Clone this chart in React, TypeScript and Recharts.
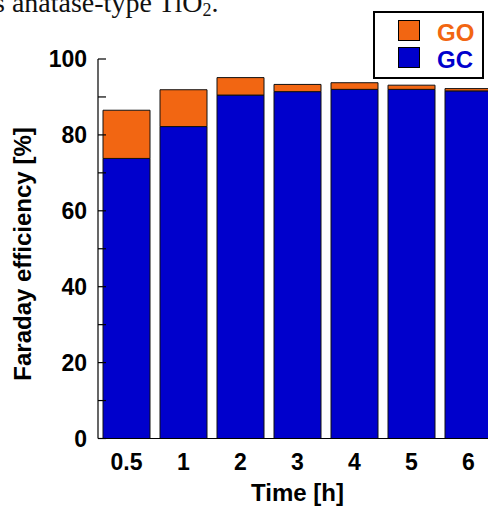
import React from "react";
import { BarChart, Bar, XAxis, YAxis, Legend, Label } from "recharts";

// values
const times = ["0.5", "1", "2", "3", "4", "5", "6"];
const gcValues = [73.8, 82.2, 90.5, 91.4, 92.0, 92.0, 91.6];
const goValues = [12.7, 9.7, 4.6, 1.9, 1.75, 1.1, 0.6];
const yTicks = [0, 10, 20, 30, 40, 50, 60, 70, 80, 90, 100];
const yLabelTicks = [0, 20, 40, 60, 80, 100];

const data = times.map((t, i) => ({ time: t, GC: gcValues[i], GO: goValues[i] }));

const BLUE = "#0000cc";
const ORANGE = "#f26612";
const FONT = "Arial, 'Liberation Sans', sans-serif";

const AXIS_X = 98;
const PLOT_BOTTOM = 438.5;

const YTick = ({ y, payload }: any) => {
  const v = payload.value;
  return (
    <g>
      <line x1={AXIS_X} x2={AXIS_X + 8} y1={y} y2={y} stroke="#000" strokeWidth={1.2} />
      {yLabelTicks.includes(v) && (
        <text x={87} y={y + 8} textAnchor="end" fontFamily={FONT} fontWeight="bold" fontSize={23} fill="#000">
          {v}
        </text>
      )}
    </g>
  );
};

const XTick = ({ x, payload }: any) => (
  <text x={x} y={469.5} textAnchor="middle" fontFamily={FONT} fontWeight="bold" fontSize={23} fill="#000">
    {payload.value}
  </text>
);

const LegendBox = ({ payload }: any) => {
  const items = [...(payload || [])].reverse();
  return (
    <svg width={111} height={68}>
      <rect x={1} y={1} width={109} height={66} fill="#fff" stroke="#000" strokeWidth={2} />
      {items.map((item: any, i: number) => (
        <g key={item.value}>
          <rect x={25.5} y={9.5 + i * 27} width={21} height={20} fill={item.color} stroke="#000" strokeWidth={1} />
          <text x={64} y={29.5 + i * 27} fontFamily={FONT} fontWeight="bold" fontSize={24} fill={item.color}>
            {item.value}
          </text>
        </g>
      ))}
    </svg>
  );
};

export default function App() {
  return (
    <div style={{ position: "absolute", left: 0, top: 0, width: 488, height: 506, overflow: "hidden", background: "#fff" }}>
      <svg width={488} height={30} style={{ position: "absolute", left: 0, top: 0 }}>
        <text x={-6} y={11.5} fontFamily="'Liberation Serif', 'Times New Roman', serif" fontSize={28} fill="#111">
          s anatase-type TiO
          <tspan fontSize={18} dy={4}>2</tspan>
          <tspan dy={-4}>.</tspan>
        </text>
      </svg>
      <BarChart
        width={497}
        height={506}
        data={data}
        margin={{ top: 59, right: 0, bottom: 0, left: 0 }}
        barCategoryGap={5}
        style={{ position: "absolute", left: 0, top: 0 }}
      >
        <Bar dataKey="GC" name="GC" stackId="a" fill={BLUE} stroke="#111" strokeWidth={1} isAnimationActive={false} />
        <Bar dataKey="GO" name="GO" stackId="a" fill={ORANGE} stroke="#111" strokeWidth={1} isAnimationActive={false} />
        <XAxis
          dataKey="time"
          height={506 - PLOT_BOTTOM}
          tickLine={false}
          axisLine={{ stroke: "#000", strokeWidth: 1.2 }}
          tick={<XTick />}
          interval={0}
        >
          <Label
            content={() => (
              <text x={297.5} y={501} textAnchor="middle" fontFamily={FONT} fontWeight="bold" fontSize={24} fill="#000">
                Time [h]
              </text>
            )}
          />
        </XAxis>
        <YAxis
          width={AXIS_X}
          domain={[0, 100]}
          ticks={yTicks}
          interval={0}
          tickLine={false}
          axisLine={{ stroke: "#000", strokeWidth: 1.2 }}
          tick={<YTick />}
        >
          <Label
            content={() => (
              <text
                x={31}
                y={254}
                transform="rotate(-90, 31, 254)"
                textAnchor="middle"
                fontFamily={FONT}
                fontWeight="bold"
                fontSize={24}
                fill="#000"
              >
                Faraday efficiency [%]
              </text>
            )}
          />
        </YAxis>
        <Legend
          layout="horizontal"
          verticalAlign="middle"
          align="center"
          content={<LegendBox />}
          wrapperStyle={{ position: "absolute", left: 373, top: 11, width: 111, height: 68 }}
        />
      </BarChart>
    </div>
  );
}
